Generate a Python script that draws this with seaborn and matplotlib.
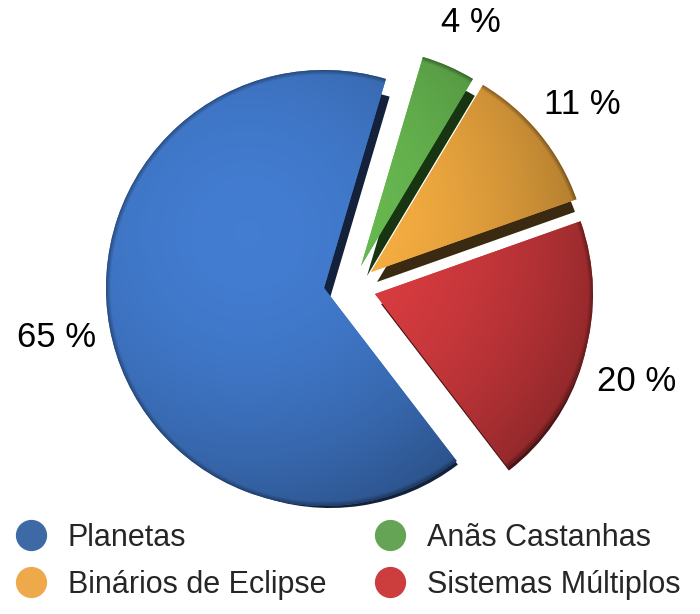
import numpy as np
import matplotlib
matplotlib.use("Agg")
import matplotlib.pyplot as plt
import seaborn as sns
from matplotlib.lines import Line2D
from matplotlib.colors import to_rgb

# ---- data ----
categories = ["Planetas", "Anãs Castanhas", "Binários de Eclipse", "Sistemas Múltiplos"]
values = [65, 4, 11, 20]
value_labels = ["65 %", "4 %", "11 %", "20 %"]

# ---- styles ----
face_colors = ["#3f76c6", "#64b24e", "#eea83f", "#d23a3e"]
side_colors = ["#14213a", "#183512", "#3a2a12", "#4a1416"]
legend_colors = ["#3d6aa5", "#66a455", "#eeaa4a", "#cc3d3d"]
offsets = [(0, 0), (37, 22), (47, 16), (51, -6)]   # explode shifts in px (y up)
label_nudge = [(0, 0), (0, -6), (0, -5), (0, -10)]
W, H = 700, 614
CENTER = (324, 326)
R = 218
DEPTH = (6, -10)
START = 73.5

sns.set_theme(style="white")
plt.rcParams['font.family'] = ['Liberation Sans', 'DejaVu Sans']

fig = plt.figure(figsize=(W / 100, H / 100), dpi=100)
ax = fig.add_axes([0, 0, 1, 1])

# clockwise order starting at START
order = [1, 2, 3, 0]
vals = [values[i] for i in order]

# side (depth) layer
sides, _ = ax.pie(vals, startangle=START, counterclock=False, radius=R - 8,
                  center=(CENTER[0] + DEPTH[0], CENTER[1] + DEPTH[1]),
                  colors=[side_colors[i] for i in order],
                  wedgeprops=dict(linewidth=0, zorder=1))
for w, i in zip(sides, order):
    cx, cy = w.center
    w.set_center((cx + offsets[i][0], cy + offsets[i][1]))
    w.set_zorder(1)

# faces
faces, texts = ax.pie(vals, startangle=START, counterclock=False, radius=R,
                      center=CENTER, colors=[face_colors[i] for i in order],
                      labels=[value_labels[i] for i in order], labeldistance=1.25,
                      wedgeprops=dict(linewidth=0),
                      textprops=dict(fontsize=25, color="black"))

xx, yy = np.meshgrid(np.arange(W) + 0.5, np.arange(H) + 0.5)
for w, t, i in zip(faces, texts, order):
    cx, cy = w.center
    ox, oy = offsets[i]
    w.set_center((cx + ox, cy + oy))
    w.set_zorder(2)
    tx, ty = t.get_position()
    t.set_position((tx + ox + label_nudge[i][0], ty + oy + label_nudge[i][1]))
    t.set_ha("center")
    t.set_va("center")
    # lighting gradient clipped to the wedge
    c = w.center
    lx, ly = c[0] - 0.35 * R, c[1] + 0.25 * R
    d = np.hypot(xx - lx, yy - ly) / R
    f = np.clip(1.06 - 0.18 * d ** 2, 0.6, 1.1)
    rl = np.hypot(xx - c[0], yy - c[1])
    rim = 1 - 0.35 * np.clip((rl - (R - 5)) / 5, 0, 1)
    f = f * rim
    base = np.array(to_rgb(face_colors[i]))
    img = np.clip(base[None, None, :] * f[:, :, None], 0, 1)
    im = ax.imshow(img, extent=(0, W, 0, H), origin="lower", zorder=3,
                   interpolation="bilinear")
    im.set_clip_path(w)

ax.set_xlim(0, W)
ax.set_ylim(0, H)
ax.set_aspect("equal")
ax.axis("off")

# legend
handles = [Line2D([], [], marker="o", linestyle="none", markersize=22.5,
                  markerfacecolor=legend_colors[i], markeredgewidth=0)
           for i in range(len(categories))]
common = dict(loc="upper left", frameon=False, fontsize=22, handlelength=1.0,
              handletextpad=0.71, borderpad=0, borderaxespad=0, labelspacing=0.55)
top = (H - 523) / H
leg1 = ax.legend([handles[0], handles[2]], [categories[0], categories[2]],
                 bbox_to_anchor=(15.7 / W, top), **common)
ax.add_artist(leg1)
leg2 = ax.legend([handles[1], handles[3]], [categories[1], categories[3]],
                 bbox_to_anchor=(374.7 / W, top), **common)

fig.savefig("out.png", dpi=100, facecolor="white")
